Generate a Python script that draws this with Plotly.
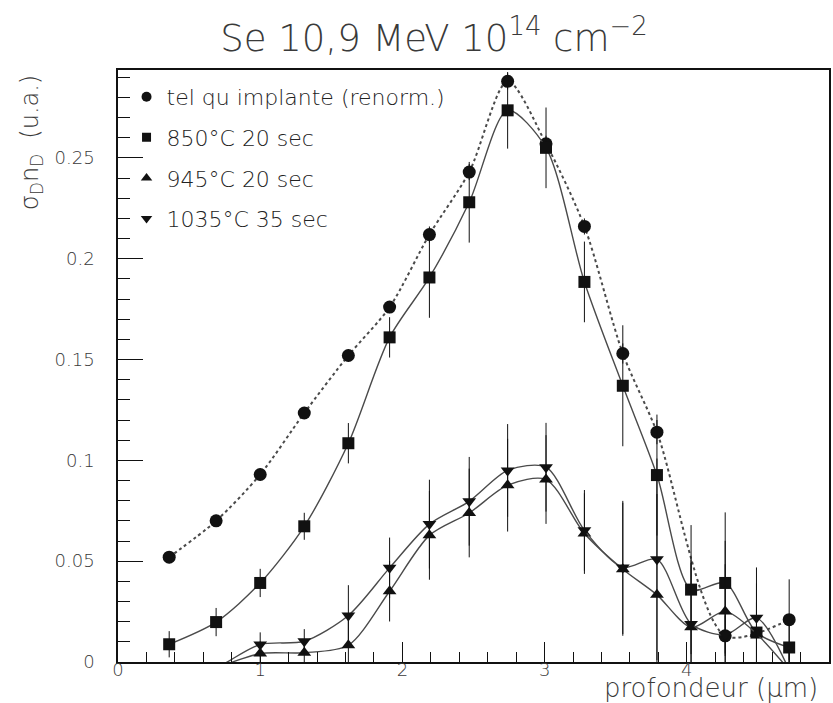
import plotly.graph_objects as go

# ---------------- data ----------------
depth = [0.36, 0.69, 1.0, 1.31, 1.62, 1.91, 2.19, 2.47, 2.74, 3.01, 3.28, 3.55, 3.79, 4.03, 4.27, 4.49, 4.72]

x_implant = [0.36, 0.69, 1.0, 1.31, 1.62, 1.91, 2.19, 2.47, 2.74, 3.01, 3.28, 3.55, 3.79, 4.27, 4.72]
y_implant = [0.052, 0.070, 0.093, 0.1235, 0.152, 0.176, 0.212, 0.243, 0.288, 0.257, 0.216, 0.153, 0.114, 0.013, 0.021]
e_implant = [0.003, 0.003, 0.003, 0.003, 0.003, 0.003, 0.004, 0.004, 0.004, 0.004, 0.004, 0.005, 0.006, 0.010, 0.020]

y_850 = [0.0088, 0.0198, 0.0392, 0.0673, 0.1085, 0.161, 0.1907, 0.228, 0.2736, 0.255, 0.1885, 0.137, 0.0927, 0.0359, 0.0392, 0.0146, 0.0072]
e_850 = [0.0065, 0.007, 0.007, 0.0067, 0.010, 0.010, 0.020, 0.020, 0.019, 0.020, 0.020, 0.030, 0.030, 0.032, 0.035, 0.015, 0.012]

x_tri = [0.36, 0.69, 1.0, 1.31, 1.62, 1.91, 2.19, 2.47, 2.74, 3.01, 3.28, 3.55, 3.79, 4.03, 4.27, 4.49, 4.72]
y_945 = [-0.012, -0.003, 0.0042, 0.0046, 0.0083, 0.0351, 0.0628, 0.0739, 0.0877, 0.0905, 0.0637, 0.046, 0.0333, 0.0172, 0.0251, 0.014, -0.004]
y_1035 = [-0.012, -0.003, 0.0087, 0.0103, 0.0231, 0.0467, 0.0684, 0.0797, 0.095, 0.0966, 0.0653, 0.0469, 0.0509, 0.0189, 0.0135, 0.0219, -0.004]
e_tri = [0.0, 0.003, 0.006, 0.006, 0.015, 0.015, 0.022, 0.022, 0.023, 0.022, 0.020, 0.033, 0.050, 0.032, 0.035, 0.025, 0.010]

legend_labels = ["tel qu implante (renorm.)", "850°C 20 sec", "945°C 20 sec", "1035°C 35 sec"]
y_ticks = [0, 0.05, 0.1, 0.15, 0.2, 0.25]
y_tick_text = ["0", "0.05", "0.1", "0.15", "0.2", "0.25"]
x_ticks = [0, 1, 2, 3, 4, 5]

INK = "#111111"
LINE = "#4a4a4a"
FONT = "DejaVu Sans"
TXT = "#3a3a3a"

fig = go.Figure()

def err(arr):
    return dict(type="data", array=arr, visible=True, color=INK, thickness=1, width=0)

fig.add_trace(go.Scatter(
    x=x_implant, y=y_implant, mode="lines+markers", showlegend=False,
    line=dict(color=LINE, width=2, dash="dot", shape="spline", smoothing=0.8),
    marker=dict(symbol="circle", size=13, color=INK),
    error_y=err(e_implant)))
fig.add_trace(go.Scatter(
    x=depth, y=y_850, mode="lines+markers", showlegend=False,
    line=dict(color=LINE, width=1.4, shape="spline", smoothing=0.8),
    marker=dict(symbol="square", size=12, color=INK),
    error_y=err(e_850)))
fig.add_trace(go.Scatter(
    x=x_tri, y=y_945, mode="lines+markers", showlegend=False,
    line=dict(color=LINE, width=1.4, shape="spline", smoothing=0.8),
    marker=dict(symbol="triangle-up", size=12, color=INK),
    error_y=err(e_tri)))
fig.add_trace(go.Scatter(
    x=x_tri, y=y_1035, mode="lines+markers", showlegend=False,
    line=dict(color=LINE, width=1.4, shape="spline", smoothing=0.8),
    marker=dict(symbol="triangle-down", size=12, color=INK),
    error_y=err(e_tri)))

for lab, sym, sz in zip(legend_labels, ["circle", "square", "triangle-up", "triangle-down"], [10, 9, 10, 10]):
    fig.add_trace(go.Scatter(
        x=[None], y=[None], mode="markers", name=lab, legendgroup=lab,
        marker=dict(symbol=sym, size=sz, color=INK)))

fig.update_layout(
    width=833, height=703,
    margin=dict(l=118, r=2, t=70, b=41),
    paper_bgcolor="white", plot_bgcolor="white",
    font=dict(family=FONT, color=TXT, size=18, weight=200),
    title=dict(text="Se 10,9 MeV 10<sup>14</sup> cm<sup>−2</sup>",
               x=0.521, xanchor="center", y=1 - 38 / 703, yanchor="middle",
               font=dict(family=FONT, size=37, color=TXT, weight=200)),
    legend=dict(x=0.012, y=0.99, xanchor="left", yanchor="top",
                bgcolor="rgba(0,0,0,0)", font=dict(family=FONT, size=22, color="#222222", weight=200),
                traceorder="grouped", tracegroupgap=9, itemwidth=30),
    xaxis=dict(range=[0, 5], tickvals=x_ticks, ticks="inside", ticklen=20, tickwidth=1.2,
               tickcolor=INK, showline=True, linecolor=INK, linewidth=1.5, mirror=True,
               showgrid=False, zeroline=False, ticklabelstandoff=-9,
               tickfont=dict(family=FONT, size=18, color=TXT, weight=200),
               minor=dict(dtick=0.2, ticks="inside", ticklen=10, tickcolor=INK, tickwidth=1)),
    yaxis=dict(range=[0, 0.2936], tickvals=y_ticks, ticktext=y_tick_text, ticks="inside",
               ticklen=25, tickwidth=1.2, tickcolor=INK, showline=True, linecolor=INK,
               linewidth=1.5, mirror=True, showgrid=False, zeroline=False, ticklabelstandoff=18,
               tickfont=dict(family=FONT, size=18, color=TXT, weight=200),
               minor=dict(dtick=0.01, ticks="inside", ticklen=12, tickcolor=INK, tickwidth=1)),
    annotations=[
        dict(text="σ<sub>D</sub>n<sub>D</sub>  (u.a.)", textangle=-90, xref="paper", yref="paper",
             x=-(118 - 31) / 713, y=(662 - 143) / 592, xanchor="center", yanchor="middle",
             showarrow=False, font=dict(family=FONT, size=24, color=TXT, weight=200)),
        dict(text="profondeur (μm)", xref="paper", yref="paper",
             x=(822 - 118) / 713, y=-(688 - 662) / 592, xanchor="right", yanchor="middle",
             showarrow=False, font=dict(family=FONT, size=26, color=TXT, weight=200)),
    ],
)

fig.write_html("out.html")
